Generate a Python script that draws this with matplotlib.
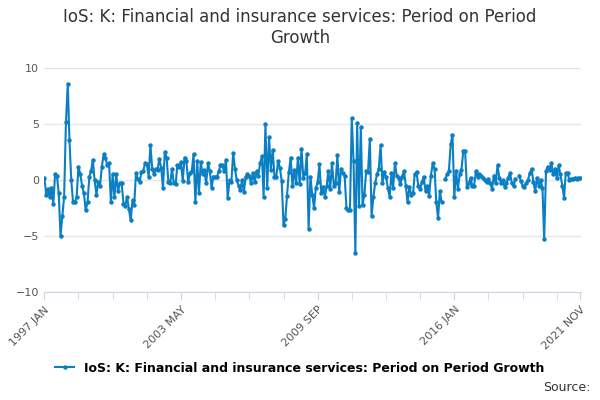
import matplotlib.pyplot as plt
import numpy as np
import pandas as pd

nan = np.nan
values = [
    0.2, -1.3, -0.8, -1.5, -0.7, -2.1, 0.5, 0.4, -1.2, -5.0, -3.2, -1.5,
    5.2, 8.6, 3.6, 0.0, -2.0, -2.0, -1.5, 1.2, 0.5, -0.5, -1.2, -2.7,
    -2.0, 0.3, 0.8, 1.8, 0.0, -1.3, -0.2, -0.5, 1.2, 2.3, 2.0, 1.3,
    1.5, -2.0, 0.5, -1.5, 0.5, -1.0, -0.3, -0.3, -2.1, -2.3, -1.5, -2.6,
    -3.6, -1.8, -2.2, 0.6, 0.1, -0.2, 0.7, 0.8, 1.5, 1.4, 0.3, 3.1,
    1.0, 0.5, 1.0, 0.9, 1.9, 1.1, -0.7, 2.5, 2.0, -0.2, -0.3, 1.0,
    -0.3, -0.4, 1.3, 1.2, 1.6, -0.1, 2.0, 1.7, -0.2, 0.6, 0.8, 2.3,
    -2.0, 1.7, -1.2, 1.6, 0.5, 0.9, -0.3, 1.5, 0.8, -0.7, 0.3, 0.3,
    0.3, 0.8, 1.3, 1.3, 0.8, 1.8, -1.6, 0.0, -0.2, 2.4, 1.0, 0.0,
    -0.5, -0.9, 0.0, -1.1, 0.3, 0.5, 0.4, -0.3, 0.6, -0.2, 0.8, 0.4,
    1.5, 2.1, -1.5, 5.0, -0.7, 3.8, 0.9, 2.7, 0.3, 0.3, 1.7, 1.1,
    -0.1, -4.0, -3.5, -1.4, 0.7, 2.0, -0.5, 0.9, -0.3, 2.0, -0.4, 2.8,
    0.2, 0.6, 2.3, -4.4, 0.3, -1.3, -2.5, -0.7, -0.2, 1.4, -1.2, -0.6,
    -1.5, -0.5, 0.8, -0.8, 1.5, -0.5, -0.3, 2.2, -1.1, 1.0, 0.6, 0.4,
    -2.5, -2.7, -2.7, 5.5, 1.7, -6.5, 5.1, -2.3, 4.7, -2.2, -1.3, 0.8,
    0.7, 3.7, -3.2, -1.5, -0.3, 0.5, 1.0, 3.1, -0.3, 0.7, 0.3, -0.7,
    -1.5, 0.6, -0.7, 1.5, 0.4, 0.2, -0.4, 0.3, 0.8, -0.5, -2.0, -0.6,
    -1.3, -1.2, 0.5, 0.7, -0.5, -0.8, -0.2, 0.3, -1.0, -0.5, -1.4, 0.4,
    1.5, 1.0, -2.0, -3.4, -1.0, -2.0, nan, 0.1, 0.5, 0.8, 3.2, 4.0,
    -1.5, 0.8, -0.8, 0.5, 0.9, 2.6, 2.6, -0.6, -0.3, 0.2, -0.5, -0.5,
    0.8, 0.3, 0.5, 0.4, 0.2, 0.0, -0.2, 0.1, -0.3, -0.8, 0.4, -0.3,
    1.3, 0.2, -0.3, 0.0, -0.6, -0.3, 0.2, 0.6, -0.3, -0.5, 0.1, nan,
    0.4, -0.1, -0.5, -0.6, -0.3, 0.0, 0.6, 1.0, -0.2, -1.0, 0.2, -0.5,
    0.0, -0.7, -5.3, 0.8, 1.2, 0.9, 1.5, 0.5, 1.0, 0.2, 1.3, 0.5,
    -0.5, -1.6, 0.6, 0.6, 0.0, 0.1, 0.1, 0.2, 0.1, 0.2, 0.2,
]
dates = pd.date_range('1997-01-01', periods=len(values), freq='MS')
tick_labels = ['1997 JAN', '2003 MAY', '2009 SEP', '2016 JAN', '2021 NOV']
tick_dates = pd.to_datetime(['1997-01-01', '2003-05-01', '2009-09-01', '2016-01-01', '2021-11-01'])
minor_dates = pd.date_range('1997-01-01', '2021-11-01', freq='19MS')

color = '#0a7fc4'
fig = plt.figure(figsize=(6, 4), dpi=100)
ax = fig.add_axes([0.073, 0.27, 0.895, 0.56])
ax.plot(dates, values, color=color, lw=1.5, marker='o', ms=2.2,
        label='IoS: K: Financial and insurance services: Period on Period Growth')
ax.set_ylim(-10, 10)
ax.set_yticks([-10, -5, 0, 5, 10])
ax.set_xlim(dates[0] - pd.Timedelta(days=10), dates[-1] + pd.Timedelta(days=10))
ax.set_xticks(list(minor_dates) + [tick_dates[-1]], minor=True)
ax.set_xticks(tick_dates)
ax.set_xticklabels(tick_labels, rotation=45, ha='right', color='#555555', fontsize=8,
                   rotation_mode='anchor')
ax.tick_params(axis='x', which='both', length=6, color='#ccd6eb')
ax.tick_params(axis='x', which='major', pad=3)
ax.tick_params(axis='y', length=0, colors='#555555', labelsize=8)
ax.grid(axis='y', color='#e6e6e6', lw=1)
for s in ['top', 'right', 'left']:
    ax.spines[s].set_visible(False)
ax.spines['bottom'].set_color('#ccd6eb')
fig.suptitle('IoS: K: Financial and insurance services: Period on Period\nGrowth',
             fontsize=12, color='#333333', y=0.98)
fig.legend(loc='lower center', bbox_to_anchor=(0.5, 0.035), frameon=False,
           prop={'weight': 'bold', 'size': 9}, handlelength=1.5)
fig.text(0.985, 0.015, 'Source:', ha='right', va='bottom', fontsize=9, color='#333333')
plt.savefig('out.png')
